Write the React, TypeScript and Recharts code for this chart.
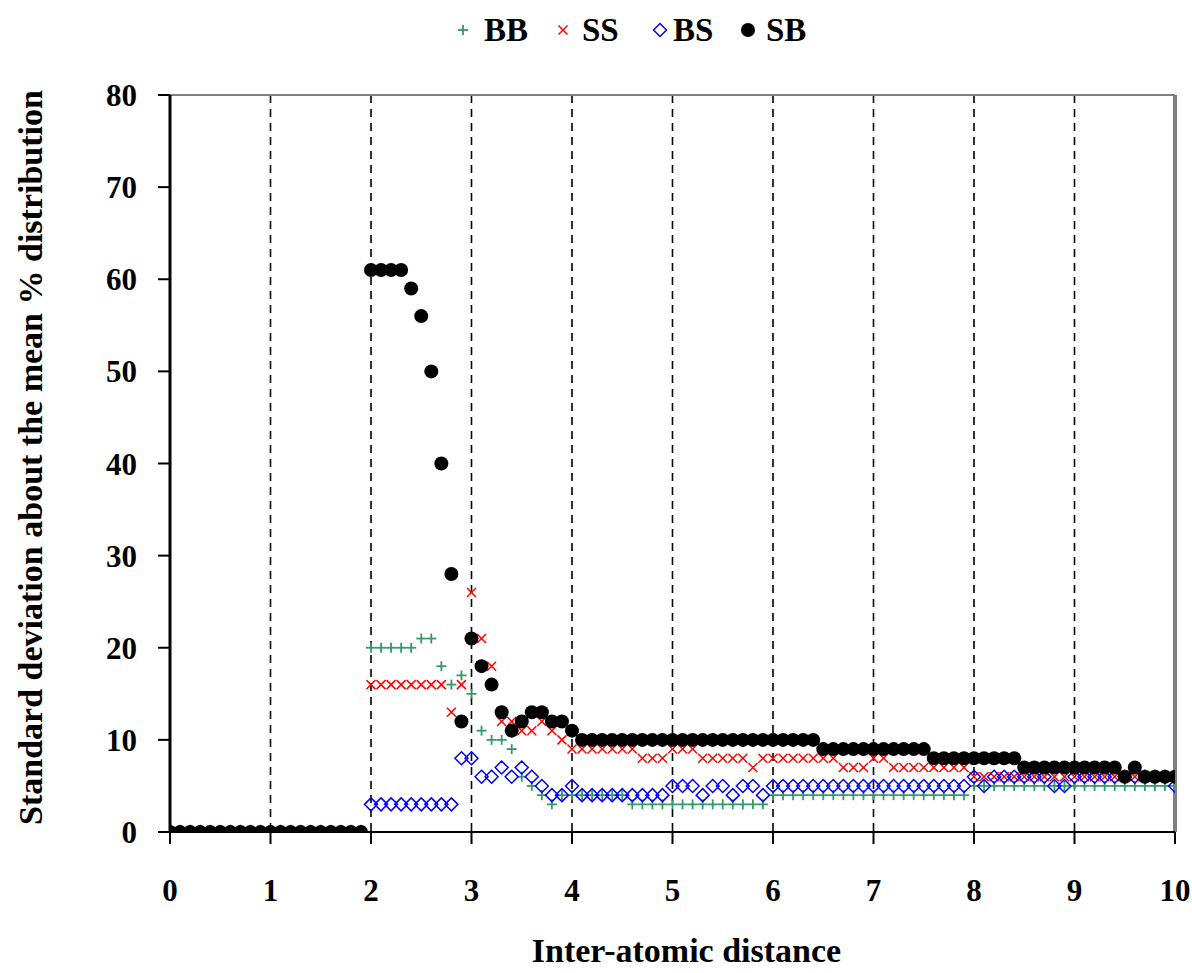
import React from "react";
import {
  ScatterChart,
  Scatter,
  XAxis,
  YAxis,
  CartesianGrid,
  ReferenceLine,
  Legend,
} from "recharts";

// x positions: 0.0 .. 10.0 step 0.1 (index i -> i/10)
const distances: number[] = Array.from({ length: 101 }, (_, i) => i / 10);

const bbValues: number[] = [
  0, 0, 0, 0, 0, 0, 0, 0, 0, 0, 0, 0, 0, 0, 0, 0, 0, 0, 0, 0,
  20, 20, 20, 20, 20, 21, 21, 18, 16, 17, 15, 11, 10, 10, 9,
  6, 5, 4, 3, 4, 4,
  4, 4, 4, 4, 4,
  3, 3, 3, 3, 3, 3, 3, 3, 3, 3, 3, 3, 3, 3,
  4, 4, 4, 4, 4, 4, 4, 4, 4, 4, 4, 4, 4, 4, 4, 4, 4, 4, 4, 4,
  5, 5, 5, 5, 5, 5, 5, 5, 5, 5, 5, 5, 5, 5, 5, 5, 5, 5, 5, 5, 5,
];

const ssValues: number[] = [
  0, 0, 0, 0, 0, 0, 0, 0, 0, 0, 0, 0, 0, 0, 0, 0, 0, 0, 0, 0,
  16, 16, 16, 16, 16, 16, 16, 16,
  13, 16, 26, 21, 18, 12, 12, 11, 11, 12, 11, 10, 9,
  9, 9, 9, 9, 9, 9,
  8, 8, 8,
  9, 9, 9,
  8, 8, 8, 8, 8,
  7,
  8, 8, 8, 8, 8, 8,
  8, 8,
  7, 7, 7,
  8, 8,
  7, 7, 7, 7, 7, 7, 7, 7,
  6,
  6, 6, 6, 6, 6, 6, 6, 6, 6, 6, 6, 6, 6, 6, 6, 6, 6, 6, 6, 6,
];

const bsValues: number[] = [
  0, 0, 0, 0, 0, 0, 0, 0, 0, 0, 0, 0, 0, 0, 0, 0, 0, 0, 0, 0,
  3, 3, 3, 3, 3, 3, 3, 3, 3,
  8, 8, 6, 6,
  7, 6, 7, 6, 5, 4, 4, 5,
  4, 4, 4, 4, 4, 4, 4, 4, 4,
  5, 5, 5,
  4, 5, 5, 4, 5, 5, 4,
  5, 5, 5, 5, 5, 5, 5, 5, 5, 5, 5, 5, 5, 5, 5, 5, 5, 5, 5, 5,
  6, 5, 6, 6, 6, 6, 6, 6, 5, 5, 6, 6, 6, 6, 6, 6, 6, 6, 6, 6, 5,
];

const sbValues: number[] = [
  0, 0, 0, 0, 0, 0, 0, 0, 0, 0, 0, 0, 0, 0, 0, 0, 0, 0, 0, 0,
  61, 61, 61, 61,
  59, 56, 50, 40, 28, 12, 21, 18, 16, 13, 11, 12, 13, 13, 12, 12, 11,
  10, 10, 10, 10, 10, 10, 10, 10, 10, 10, 10, 10, 10, 10, 10, 10, 10, 10, 10, 10, 10, 10, 10, 10,
  9, 9, 9, 9, 9, 9, 9, 9, 9, 9, 9,
  8, 8, 8, 8, 8, 8, 8, 8, 8,
  7, 7, 7, 7, 7, 7, 7, 7, 7, 7,
  6, 7, 6, 6, 6, 6,
];

const xTicks: number[] = [0, 1, 2, 3, 4, 5, 6, 7, 8, 9, 10];
const yTicks: number[] = [0, 10, 20, 30, 40, 50, 60, 70, 80];

const seriesNames = ["BB", "SS", "BS", "SB"];
const GREEN = "#339966";
const RED = "#ff0000";
const BLUE = "#0000ff";
const BLACK = "#000000";

const FONT = "'Liberation Serif', 'Times New Roman', serif";

const toPoints = (vals: number[]) =>
  distances.map((x, i) => ({ x, y: vals[i] }));

const PlusShape = (props: any) => {
  const { cx, cy } = props;
  if (cx == null || cy == null) return null;
  return (
    <g stroke={GREEN} strokeWidth={1.8}>
      <line x1={cx - 5} y1={cy} x2={cx + 5} y2={cy} />
      <line x1={cx} y1={cy - 5} x2={cx} y2={cy + 5} />
    </g>
  );
};

const CrossShape = (props: any) => {
  const { cx, cy } = props;
  if (cx == null || cy == null) return null;
  return (
    <g stroke={RED} strokeWidth={1.5}>
      <line x1={cx - 4.5} y1={cy - 4.5} x2={cx + 4.5} y2={cy + 4.5} />
      <line x1={cx - 4.5} y1={cy + 4.5} x2={cx + 4.5} y2={cy - 4.5} />
    </g>
  );
};

const DiamondShape = (props: any) => {
  const { cx, cy } = props;
  if (cx == null || cy == null) return null;
  const r = 6.5;
  return (
    <polygon
      points={`${cx},${cy - r} ${cx + r},${cy} ${cx},${cy + r} ${cx - r},${cy}`}
      fill="none"
      stroke={BLUE}
      strokeWidth={1.5}
    />
  );
};

const DotShape = (props: any) => {
  const { cx, cy } = props;
  if (cx == null || cy == null) return null;
  return <circle cx={cx} cy={cy} r={7} fill={BLACK} />;
};

const legendSymbols = [
  (
    <svg width={14} height={14} key="bb">
      <g stroke={GREEN} strokeWidth={1.8}>
        <line x1={2} y1={7} x2={12} y2={7} />
        <line x1={7} y1={2} x2={7} y2={12} />
      </g>
    </svg>
  ),
  (
    <svg width={14} height={14} key="ss">
      <g stroke={RED} strokeWidth={1.5}>
        <line x1={2.5} y1={2.5} x2={11.5} y2={11.5} />
        <line x1={2.5} y1={11.5} x2={11.5} y2={2.5} />
      </g>
    </svg>
  ),
  (
    <svg width={18} height={18} key="bs">
      <polygon points="9,2.5 15.5,9 9,15.5 2.5,9" fill="none" stroke={BLUE} strokeWidth={1.5} />
    </svg>
  ),
  (
    <svg width={18} height={18} key="sb">
      <circle cx={9} cy={9} r={7} fill={BLACK} />
    </svg>
  ),
];

// left edge of each legend symbol and of each label (page pixels)
const legendSymbolLeft = [456, 556, 651, 739];
const legendTextLeft = [484, 582, 673, 766];

const LegendContent = () => (
  <div
    style={{
      position: "relative",
      width: 1192,
      height: 40,
      fontFamily: FONT,
      fontWeight: "bold",
      fontSize: 33,
      color: "#000",
    }}
  >
    {seriesNames.map((name, i) => (
      <React.Fragment key={name}>
        <span
          style={{
            position: "absolute",
            left: legendSymbolLeft[i],
            top: 20,
            transform: "translateY(-50%)",
            display: "flex",
          }}
        >
          {legendSymbols[i]}
        </span>
        <span
          style={{
            position: "absolute",
            left: legendTextLeft[i],
            top: 20,
            transform: "translateY(-50%)",
            lineHeight: 1,
          }}
        >
          {name}
        </span>
      </React.Fragment>
    ))}
  </div>
);

const YTitle = (props: any) => {
  const vb = props.viewBox || { x: 0, y: 0, width: 0, height: 0 };
  const x = vb.x + 20;
  const y = vb.y + vb.height / 2 - 6;
  return (
    <text
      x={x}
      y={y}
      transform={`rotate(-90, ${x}, ${y})`}
      textAnchor="middle"
      dominantBaseline="central"
      fontFamily={FONT}
      fontWeight="bold"
      fontSize={34}
      fill="#000"
    >
      Standard deviation about the mean % distribution
    </text>
  );
};

const XTitle = (props: any) => {
  const vb = props.viewBox || { x: 0, y: 0, width: 0, height: 0 };
  const x = vb.x + vb.width / 2 + 14;
  return (
    <text
      x={x}
      y={962}
      textAnchor="middle"
      fontFamily={FONT}
      fontWeight="bold"
      fontSize={34}
      fill="#000"
    >
      Inter-atomic distance
    </text>
  );
};

const tickStyle = {
  fontFamily: FONT,
  fontWeight: "bold" as const,
  fontSize: 31,
  fill: "#000",
};

export default function App() {
  return (
    <div style={{ position: "absolute", left: 0, top: 0, width: 1192, height: 973, background: "#fff" }}>
      <ScatterChart
        width={1192}
        height={973}
        margin={{ top: 55, right: 17, bottom: 0, left: 10 }}
      >
        <Legend
          verticalAlign="top"
          content={<LegendContent />}
          wrapperStyle={{ position: "absolute", top: 10, left: 0, width: 1192, height: 40 }}
        />
        <CartesianGrid
          horizontal={false}
          vertical={true}
          stroke="#000"
          strokeWidth={1.6}
          strokeDasharray="8 6"
        />
        <XAxis
          type="number"
          dataKey="x"
          domain={[0, 10]}
          ticks={xTicks}
          interval={0}
          allowDataOverflow
          axisLine={{ stroke: "#000", strokeWidth: 2 }}
          tickLine={{ stroke: "#000", strokeWidth: 2 }}
          tickSize={12}
          tickMargin={35}
          tick={tickStyle}
          height={141}
          label={<XTitle />}
        />
        <YAxis
          type="number"
          dataKey="y"
          domain={[0, 80]}
          ticks={yTicks}
          interval={0}
          allowDataOverflow
          axisLine={{ stroke: "#000", strokeWidth: 3 }}
          tickLine={{ stroke: "#000", strokeWidth: 2 }}
          tickSize={12}
          tickMargin={21}
          tick={tickStyle}
          width={160}
          label={<YTitle />}
        />
        <ReferenceLine y={80} stroke="#808080" strokeWidth={2} />
        <ReferenceLine x={10} stroke="#808080" strokeWidth={4} />
        <Scatter
          name="BB"
          data={toPoints(bbValues)}
          shape={<PlusShape />}
          isAnimationActive={false}
        />
        <Scatter
          name="SS"
          data={toPoints(ssValues)}
          shape={<CrossShape />}
          isAnimationActive={false}
        />
        <Scatter
          name="BS"
          data={toPoints(bsValues)}
          shape={<DiamondShape />}
          isAnimationActive={false}
        />
        <Scatter
          name="SB"
          data={toPoints(sbValues)}
          shape={<DotShape />}
          isAnimationActive={false}
        />
      </ScatterChart>
    </div>
  );
}
